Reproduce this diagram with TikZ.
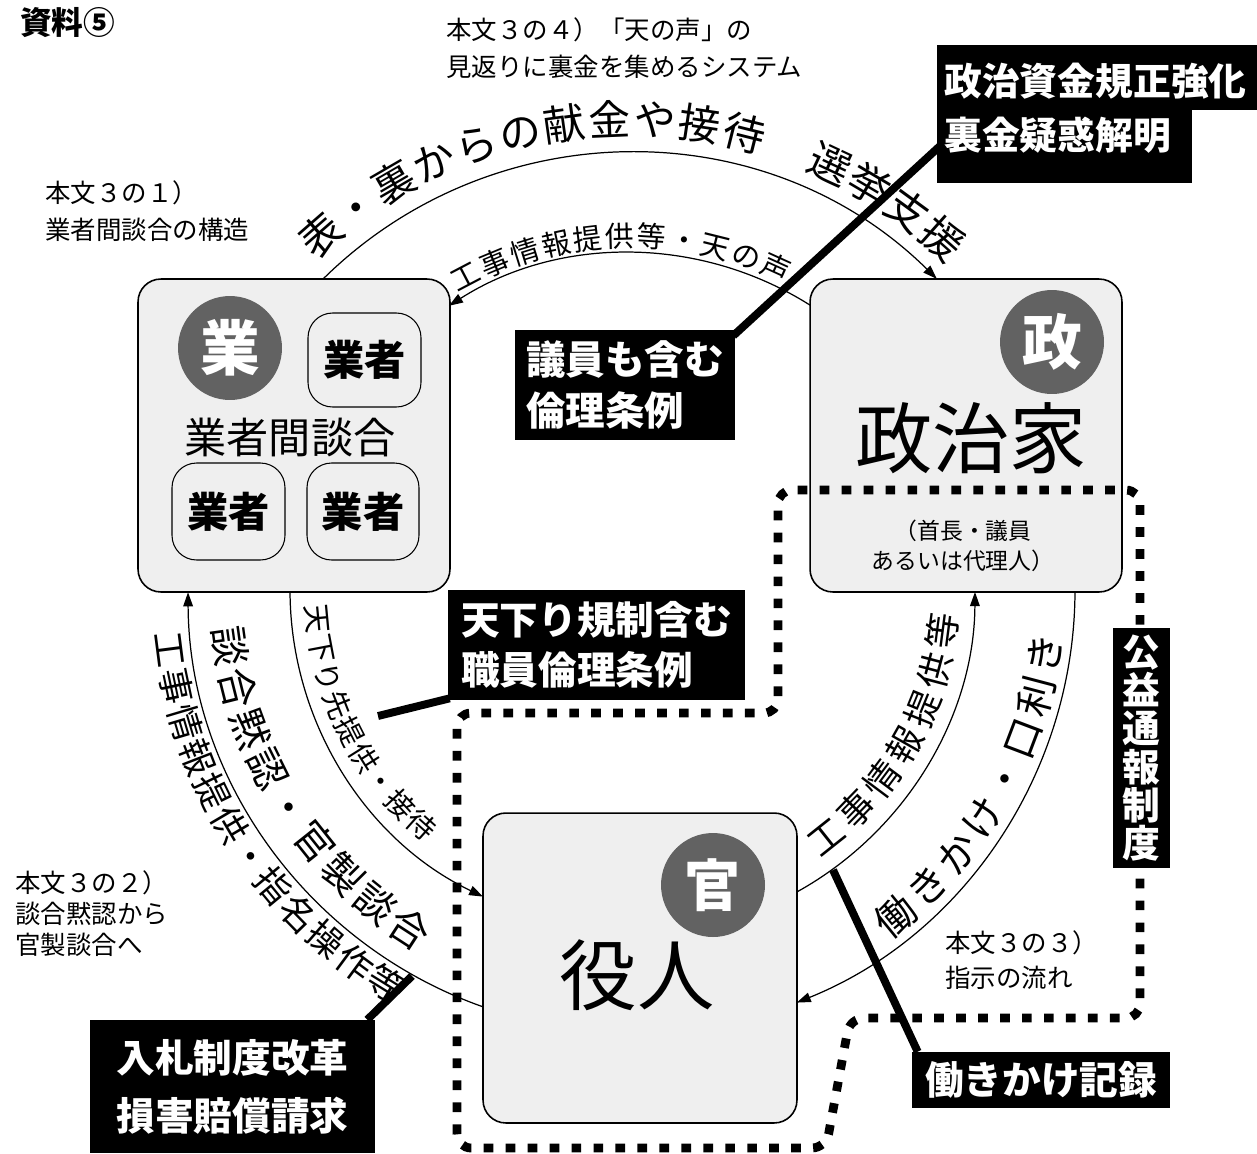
\documentclass[tikz,border=0pt]{standalone}
\usepackage{fontspec}
\newfontfamily\jp{Noto Sans CJK JP}
\usetikzlibrary{calc,arrows.meta,decorations.text}
\newcommand\fsz[2]{\fontsize{#1}{#2}\selectfont}
\definecolor{boxgray}{HTML}{EFEFEF}
\definecolor{circgray}{HTML}{626262}
\tikzset{
  rbox/.style={draw=black, line width=0.9pt, fill=boxgray, rounded corners=13pt, inner sep=0pt},
  sbox/.style={draw=black, line width=0.6pt, fill=boxgray, rounded corners=14pt, inner sep=0pt,
    font=\jp\bfseries\fsz{23.5pt}{24pt}},
  badge/.style={circle, fill=circgray, minimum size=2.08cm, inner sep=0pt, text=white,
    font=\jp\bfseries\fsz{34pt}{34pt}},
  blk/.style={fill=black, text=white, inner sep=0pt, font=\jp\bfseries\fsz{22pt}{29pt}, align=left},
  conn/.style={line width=0.7pt, -{Triangle[length=8pt,width=5.5pt]}},
  bar/.style={line width=4.5pt},
  dotloop/.style={line width=5pt, dash pattern=on 5.5pt off 7pt},
  note/.style={font=\jp\fsz{14.5pt}{21pt}, align=left, inner sep=0pt, anchor=west},
  bigtext/.style={font=\jp\fsz{44pt}{44pt}, inner sep=0pt}
}
\begin{document}
\begin{tikzpicture}[x=0.02cm,y=0.02cm]
\fill[white] (0,0) rectangle (1257,-1153);
\useasboundingbox (0,0) rectangle (1257,-1153);
\coordinate (C) at (630,-590);

% ---------- main boxes ----------
\node[rbox, minimum width=6.24cm, minimum height=6.26cm] (gyo) at (294,-435.5) {};
\node[rbox, minimum width=6.24cm, minimum height=6.26cm] (sei) at (966,-435.5) {};
\node[rbox, minimum width=6.28cm, minimum height=6.2cm] (yaku) at (640,-968) {};

\node[badge] (gyoc) at (230,-348) {業};
\node[badge] (seic) at (1052,-342) {政};
\node[badge, font=\jp\bfseries\fsz{32pt}{32pt}] (kanc) at (713,-885) {官};

\node[sbox, minimum width=2.26cm, minimum height=1.88cm] (g1) at (364.5,-360) {業者};
\node[sbox, minimum width=2.26cm, minimum height=1.94cm] (g2) at (228.5,-511.5) {業者};
\node[sbox, minimum width=2.24cm, minimum height=1.94cm] (g3) at (363,-511.5) {業者};
\node[font=\jp\fsz{24pt}{24pt}, inner sep=0pt] (dango) at (290,-437) {業者間談合};

\node[bigtext] (seit) at (971,-438) {政治家};
\node[bigtext] (yakut) at (637,-975) {役人};
\node[font=\jp\fsz{13pt}{17pt}, align=center, inner sep=0pt] (seisub) at (963,-546) {（首長・議員\\あるいは代理人）};

% ---------- dotted loop ----------
\draw[dotloop, rounded corners=8pt] (457,-1148) -- (457,-713) -- (778,-713) -- (778,-490)
  -- (1140,-490) -- (1140,-1018) -- (850,-1018) -- (826,-1148) -- cycle;

% ---------- connectors ----------
\coordinate (a1s) at ($(C)+(134.6:437)$);
\coordinate (a1e) at ($(C)+(45.4:437)$);
\draw[conn] (a1s) to[out=44.6,in=135.4] (a1e);

\coordinate (a2s) at ($(C)+(57.7:337)$);
\coordinate (a2e) at ($(C)+(122.5:337)$);
\draw[conn] (a2s) to[out=147.7,in=32.5,looseness=0.924] (a2e);

\coordinate (a3s) at ($(C)+(180.3:340)$);
\coordinate (a3e) at ($(C)+(244.4:340)$);
\draw[conn] (a3s) to[out=270.3,in=154.4,looseness=0.925] (a3e);

\coordinate (a4s) at ($(C)+(250.6:442)$);
\coordinate (a4e) at ($(C)+(180.3:442)$);
\draw[conn] (a4s) to[out=160.6,in=270.3,looseness=0.937] (a4e);

\coordinate (a5s) at ($(C)+(-61.05:345)$);
\coordinate (a5e) at ($(C)+(-0.33:345)$);
\draw[conn] (a5s) to[out=28.95,in=269.67,looseness=0.914] (a5e);

\coordinate (a6s) at ($(C)+(-0.26:445)$);
\coordinate (a6e) at ($(C)+(-68:445)$);
\draw[conn] (a6s) to[out=-90.26,in=22,looseness=0.93] (a6e);

% ---------- curved labels ----------
\path[decorate,decoration={text along path, text align=fit to path,
  text={|\jp\fsz{23.8pt}{24pt}|表・裏からの献金や接待　選挙支援}}]
  ($(C)+(133.75:455)$) arc[start angle=133.75, end angle=45.75, radius=455];
\path[decorate,decoration={text along path, text align=fit to path,
  text={|\jp\fsz{16.4pt}{17pt}|工事情報提供等・天の声}}]
  ($(C)+(120.1:343)$) arc[start angle=120.1, end angle=63.2, radius=343];
\path[decorate,decoration={text along path, text align=fit to path,
  text={|\jp\fsz{20.4pt}{21pt}|工事情報提供・指名操作等}}]
  ($(C)+(185.2:477)$) arc[start angle=185.2, end angle=240.3, radius=477];
\path[decorate,decoration={text along path, text align=fit to path,
  text={|\jp\fsz{22.7pt}{23pt}|談合黙認・官製談合}}]
  ($(C)+(185.2:419)$) arc[start angle=185.2, end angle=239.7, radius=419];
\path[decorate,decoration={text along path, text align=fit to path,
  text={|\jp\fsz{16.4pt}{17pt}|天下り先提供・接待}}]
  ($(C)+(182.8:325)$) arc[start angle=182.8, end angle=230.9, radius=325];
\path[decorate,decoration={text along path, text align=fit to path,
  text={|\jp\fsz{20.4pt}{21pt}|工事情報提供等}}]
  ($(C)+(305.4:329)$) arc[start angle=305.4, end angle=355.7, radius=329];
\path[decorate,decoration={text along path, text align=fit to path,
  text={|\jp\fsz{22.7pt}{23pt}|働きかけ・口利き}}]
  ($(C)+(306.5:435)$) arc[start angle=306.5, end angle=353.9, radius=435];

% ---------- black boxes ----------
\fill[black] (937,-45) rectangle (1257,-110);
\fill[black] (937,-108) rectangle (1192,-183);
\node[blk, fill=none, anchor=west, font=\jp\bfseries\fsz{21.5pt}{31pt}] (b1) at (944,-108) {政治資金規正強化\\裏金疑惑解明};
\node[blk, minimum width=4.4cm, minimum height=2.2cm, font=\jp\bfseries\fsz{22.5pt}{29.5pt}] (b2) at (625,-385) {議員も含む\\倫理条例};
\node[blk, minimum width=5.94cm, minimum height=2.2cm, font=\jp\bfseries\fsz{22pt}{28.5pt}] (b3) at (596.5,-645) {天下り規制含む\\職員倫理条例};
\node[blk, minimum width=1.14cm, minimum height=4.8cm, align=center, font=\jp\bfseries\fsz{21.5pt}{21.8pt}] (b4) at (1141.5,-748) {公\\益\\通\\報\\制\\度};
\node[blk, minimum width=5.16cm, minimum height=1.12cm] (b5) at (1041,-1080) {働きかけ記録};
\node[blk, minimum width=5.7cm, minimum height=2.66cm, font=\jp\bfseries\fsz{22pt}{33pt}] (b6) at (232.5,-1086.5) {入札制度改革\\損害賠償請求};

% ---------- thick pointer lines ----------
\coordinate (l1a) at (940,-146);
\draw[bar] (l1a) -- ($(b2.north east)+(-2,-6)$);
\coordinate (l2e) at (378,-716);
\draw[bar] ($(b3.south west)+(2,2)$) -- (l2e);
\coordinate (l3e) at (833,-870);
\draw[bar] ($(b5.north west)+(6,0)$) -- (l3e);
\coordinate (l4e) at (412,-976);
\draw[bar] ($(b6.north east)+(-8,0)$) -- (l4e);

% ---------- notes ----------
\node[font=\jp\bfseries\fsz{18pt}{18pt}, anchor=west, inner sep=0pt] (title) at (20,-23) {資料⑤};
\node[note] (n4) at (446,-48) {本文３の４）「天の声」の\\見返りに裏金を集めるシステム};
\node[note] (n1) at (45,-211) {本文３の１）\\業者間談合の構造};
\node[note, font=\jp\fsz{14.5pt}{17.6pt}] (n2) at (15,-914) {本文３の２）\\談合黙認から\\官製談合へ};
\node[note, font=\jp\fsz{14.5pt}{19.5pt}] (n3) at (945,-960) {本文３の３）\\指示の流れ};
\end{tikzpicture}
\end{document}
